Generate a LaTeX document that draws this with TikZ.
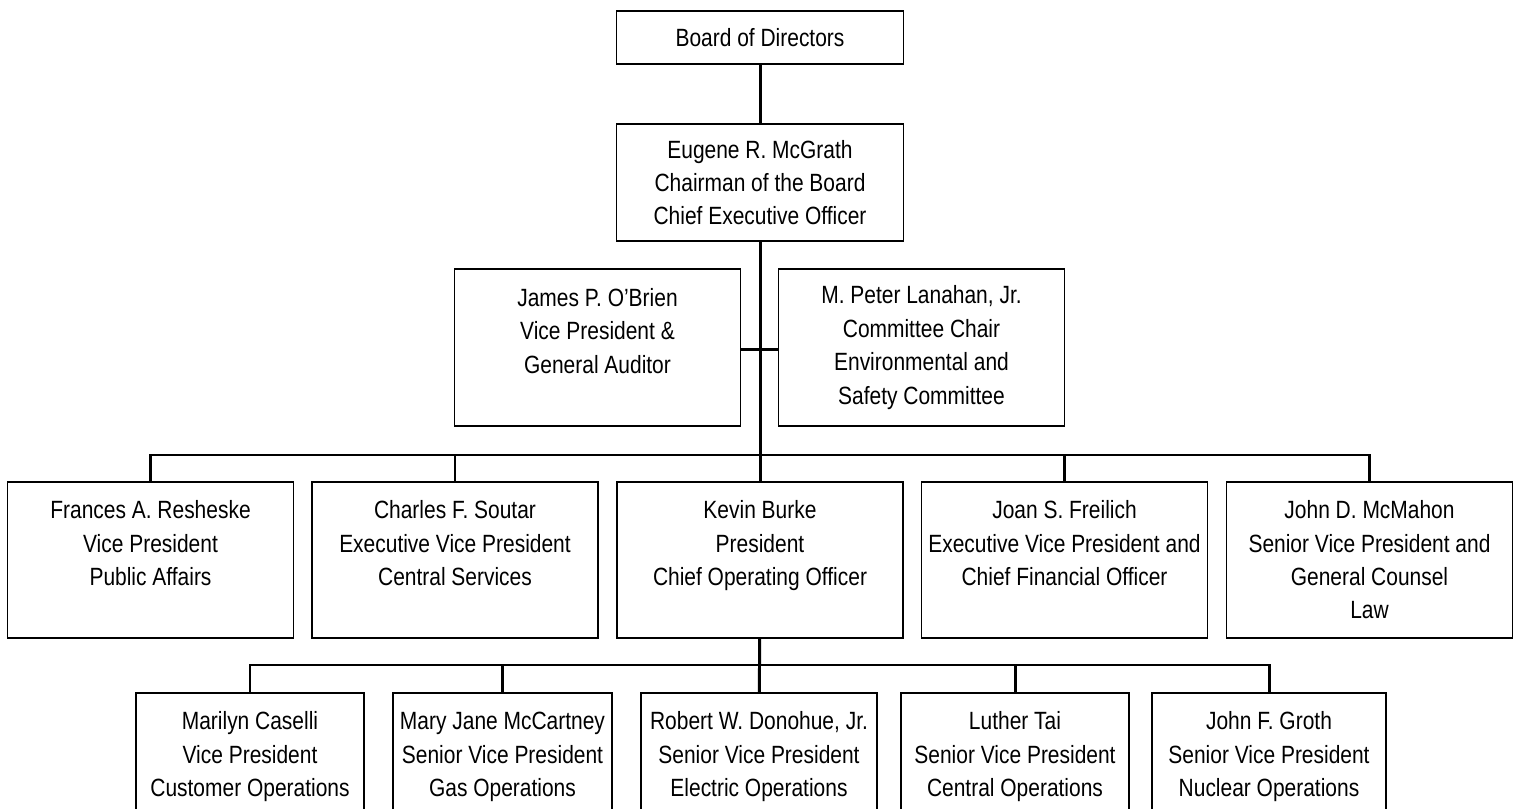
\documentclass[tikz,border=0pt]{standalone}
\usepackage{fontspec}
\setmainfont{Liberation Sans}[FakeStretch=0.84]
\begin{document}
\begin{tikzpicture}[
    post/.style={draw, line width=0.5pt, align=center, inner sep=0pt,
      font=\fontsize{7.1}{9.5}\selectfont},
    wide/.style={post, minimum width=2.86cm, minimum height=1.56cm},
    wire/.style={line width=0.85pt}]
  \useasboundingbox (0,0) rectangle (15.18,-8.09);
  \clip (0,0) rectangle (15.18,-8.09);
  % top of the chart
  \node[post, minimum width=2.87cm, minimum height=0.53cm] (board) at (7.60,-0.375) {Board of Directors};
  \node[post, minimum width=2.87cm, minimum height=1.17cm] (ceo) at (7.60,-1.825)
    {Eugene R. McGrath\\Chairman of the Board\\Chief Executive Officer};
  \node[wide, minimum height=1.57cm] (obrien) at (5.975,-3.475)
    {James P. O'Brien\\Vice President \&\\General Auditor\\\mbox{}};
  \node[wide, minimum height=1.57cm] (lanahan) at (9.215,-3.475)
    {M. Peter Lanahan, Jr.\\Committee Chair\\Environmental and\\Safety Committee};
  % officers
  \node[wide] (resheske) at (1.505,-5.60)
    {Frances A. Resheske\\Vice President\\Public Affairs\\\mbox{}};
  \node[wide] (soutar) at (4.55,-5.60)
    {Charles F. Soutar\\Executive Vice President\\Central Services\\\mbox{}};
  \node[wide] (burke) at (7.60,-5.60)
    {Kevin Burke\\President\\Chief Operating Officer\\\mbox{}};
  \node[wide] (freilich) at (10.645,-5.60)
    {Joan S. Freilich\\Executive Vice President and\\Chief Financial Officer\\\mbox{}};
  \node[wide] (mcmahon) at (13.695,-5.60)
    {John D. McMahon\\Senior Vice President and\\General Counsel\\Law};
  % operations
  \node[wide, minimum width=2.28cm] (caselli) at (2.50,-7.71)
    {Marilyn Caselli\\Vice President\\Customer Operations\\\mbox{}};
  \node[wide, minimum width=2.19cm] (mccartney) at (5.025,-7.71)
    {Mary Jane McCartney\\Senior Vice President\\Gas Operations\\\mbox{}};
  \node[wide, minimum width=2.36cm] (donohue) at (7.59,-7.71)
    {Robert W. Donohue, Jr.\\Senior Vice President\\Electric Operations\\\mbox{}};
  \node[wide, minimum width=2.28cm] (tai) at (10.15,-7.71)
    {Luther Tai\\Senior Vice President\\Central Operations\\\mbox{}};
  \node[wide, minimum width=2.34cm] (groth) at (12.69,-7.71)
    {John F. Groth\\Senior Vice President\\Nuclear Operations\\\mbox{}};
  \coordinate (busA) at (7.60,-4.55);
  \coordinate (busB) at (7.60,-6.65);
  \begin{scope}[wire]
    \draw (board) to (ceo);
    \draw (ceo) to (burke);
    \draw ([yshift=-0.02cm]obrien.east) to ([yshift=-0.02cm]lanahan.west);
    \draw (resheske.north) -- (resheske.north |- busA) -- (mcmahon.north |- busA) -- (mcmahon.north);
    \foreach \n in {soutar,freilich}
      \draw (\n.north) -- (\n.north |- busA);
    \draw (burke) to (donohue);
    \draw (caselli.north) -- (caselli.north |- busB) -- (groth.north |- busB) -- (groth.north);
    \foreach \n in {mccartney,tai}
      \draw (\n.north) -- (\n.north |- busB);
  \end{scope}
\end{tikzpicture}
\end{document}
